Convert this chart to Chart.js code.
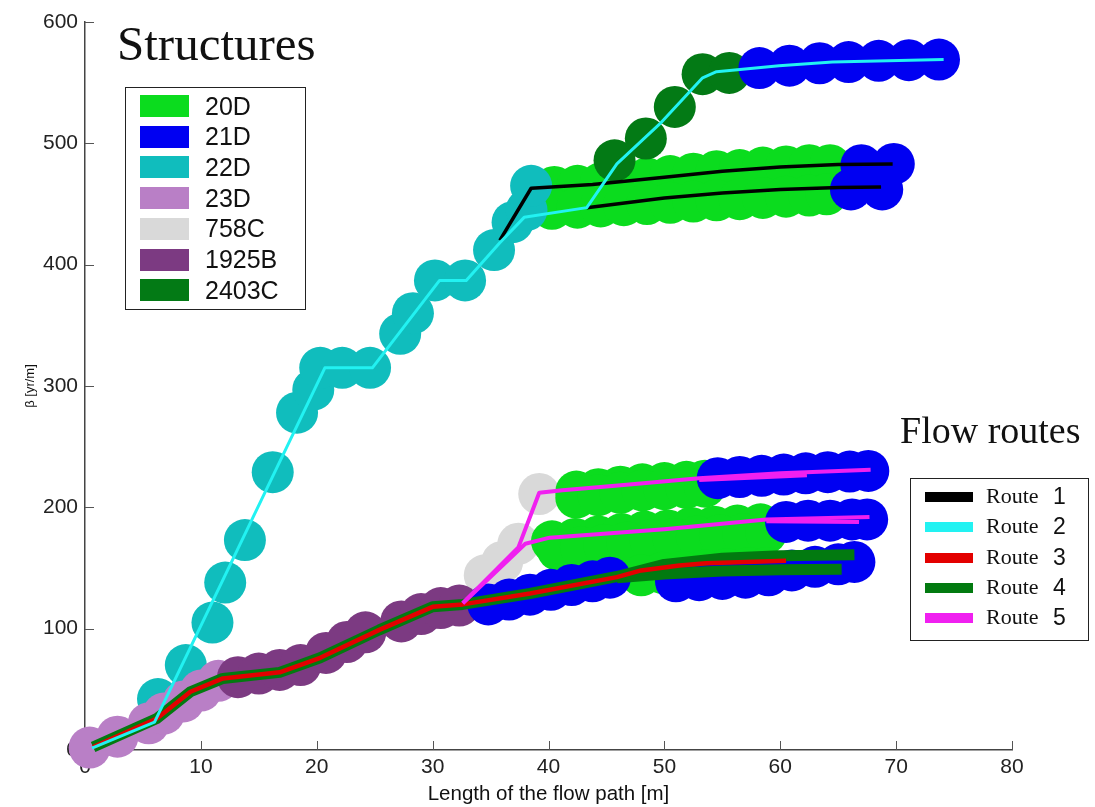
<!DOCTYPE html>
<html>
<head>
<meta charset="utf-8">
<script src="https://cdn.jsdelivr.net/npm/chart.js@4"></script>
<style>
  body { margin: 0; background: #fff; }
  #wrap { position: relative; width: 1095px; height: 807px; }
  .ttl { position: absolute; font-family: "Liberation Serif", "Times New Roman", serif; color: #111; line-height: 1; white-space: nowrap; }
  .box { position: absolute; border: 1px solid #222; background: #fff; box-sizing: border-box; }
  .sw { position: absolute; }
  .lbl { position: absolute; font-family: "Liberation Sans", Arial, sans-serif; color: #111; white-space: nowrap; line-height: 1; }
  .rt { position: absolute; font-family: "Liberation Serif", "Times New Roman", serif; color: #111; white-space: nowrap; line-height: 1; }
</style>
</head>
<body>
<div id="wrap">
  <canvas id="chart"></canvas>
  <div class="ttl" style="left:117px; top:19px; font-size:49px;">Structures</div>
  <div class="ttl" style="left:900px; top:411px; font-size:38px;">Flow routes</div>
  <div class="box" id="structLegend" style="left:125px; top:87px; width:181px; height:223px;"></div>
  <div class="box" id="routeLegend" style="left:910px; top:478px; width:179px; height:163px;"></div>
</div>
<script>
// axis ticks
const xTicks = [0, 10, 20, 30, 40, 50, 60, 70, 80];
const yTicks = [0, 100, 200, 300, 400, 500, 600];

// structures: circle centres [length, beta]
const structNames = ['20D', '21D', '22D', '23D', '758C', '1925B', '2403C'];
const structColors = ['#0bdc1e', '#0000f2', '#10bdbd', '#b97fc6', '#d9d9d9', '#7c3a82', '#037a15'];

const st20D = [
    [40.5, 464], [42.5, 465], [44.5, 467], [46.5, 469], [48.5, 471], [50.5, 473], [52.5, 475],
    [54.5, 477], [56.5, 478], [58.5, 480], [60.5, 481], [62.5, 482], [64.3, 482],
    [40.3, 446], [42.5, 447], [44.5, 448], [46.5, 449], [48.5, 450], [50.5, 451], [52.5, 452],
    [54.5, 453], [56.5, 454], [58.5, 455], [60.5, 456], [62.5, 457], [64, 458],
    [42.4, 213], [44.3, 215], [46.2, 217], [48.1, 219], [50, 220], [51.9, 221], [53.5, 222],
    [42.4, 208], [44.3, 210], [46.2, 212], [48.1, 214], [50, 215], [51.9, 216], [53.5, 217],
    [40.3, 172], [42.3, 174], [44.3, 176], [46.3, 178], [48.3, 180], [50.3, 181], [52.3, 183],
    [54.3, 184], [56.3, 185], [58.3, 186],
    [40.8, 165], [42.8, 167], [44.8, 169], [46.8, 171], [48.8, 173], [50.8, 174], [52.8, 176],
    [54.8, 177], [56.8, 178], [58.8, 179],
    [48, 144], [49.8, 146], [51.6, 147], [53.5, 148], [55.4, 149], [57.3, 150], [58.8, 150]
];
const st21D = [
    [58.2, 562], [60.8, 564], [63.4, 566], [65.9, 567], [68.5, 568], [71.1, 568.5], [73.7, 569],
    [67, 482], [69.8, 483], [66.1, 462], [68.8, 462],
    [54.6, 224], [56.5, 225], [58.4, 226], [60.3, 227], [62.2, 228], [64.1, 229], [66, 229.5], [67.6, 230],
    [60.5, 188], [62.4, 189], [64.3, 189], [66.2, 190], [67.5, 190],
    [51, 139], [53, 140], [55, 141], [57, 142], [59, 144], [61, 148], [63, 151], [65, 153], [66.4, 155],
    [34.8, 120], [36.6, 124], [38.4, 128], [40.2, 132], [42, 136], [43.8, 139], [45.3, 142]
];
const st22D = [
    [6.3, 42], [8.7, 70], [11.0, 105], [12.1, 138], [13.8, 173], [16.2, 229], [18.3, 278],
    [19.7, 297], [20.3, 315], [22.2, 315], [24.6, 315], [27.2, 343], [28.3, 360], [30.2, 387],
    [32.8, 387], [35.3, 412], [36.9, 435], [38.1, 445], [38.5, 465]
];
const st23D = [[0.4, 2], [2.8, 11], [5.5, 22], [6.8, 30], [8.5, 40], [10, 49], [11.5, 57]];
const st758C = [[34.5, 144], [36, 155], [37.4, 170], [39.2, 211]];
const st1925B = [
    [13.2, 60], [15, 63], [16.8, 66], [18.6, 70], [20.8, 80], [22.6, 89], [24.2, 97],
    [27.3, 106], [29, 112], [30.7, 117], [32.3, 119]
];
const st2403C = [[45.7, 486], [48.4, 504], [50.9, 530], [53.3, 557], [55.6, 558]];

// flow routes
const routeNames = ['Route', 'Route', 'Route', 'Route', 'Route'];
const routeNums = ['1', '2', '3', '4', '5'];
const routeColors = ['#000000', '#22f2f2', '#e30000', '#027a10', '#f020f0'];

const route1a = [[35.8, 420], [38.5, 463], [43.8, 466], [50, 472], [55, 477], [60, 480.5], [65, 482.5], [69.7, 483]];
const route1b = [[43.3, 447], [50, 455], [55, 459], [60, 462], [65, 463.5], [68.7, 464]];
const route2 = [
    [0.6, 1.6], [6.0, 23], [20.7, 315], [24.8, 315], [30.6, 387], [32.9, 387], [35.8, 418],
    [37.9, 439], [43.3, 447], [45.9, 483], [49.6, 516], [53.3, 554], [54.5, 559], [59.9, 564],
    [64.5, 567], [74.1, 569]
];
const route3 = [
    [0.7, 2.5], [6.2, 26], [9.1, 48], [11.9, 59], [16.8, 64], [20.3, 76], [25.4, 99], [30, 118],
    [32.6, 120], [38.4, 129], [45.9, 142.5], [48, 148], [51.3, 152], [53.6, 154], [60.5, 156]
];
const route4a = [
    [0.7, 2.5], [6.2, 26], [9.1, 48], [11.9, 59], [16.8, 64], [20.3, 76], [25.4, 99], [30, 118],
    [32.6, 120], [38.4, 129], [45.9, 143], [50, 153], [55, 158], [60, 160], [66.4, 161]
];
const route4b = [[45.9, 142], [50, 145], [55, 147.5], [60, 148.5], [65.3, 149]];
const route5a = [[32.6, 121], [37.4, 167], [39.2, 212], [41.2, 214], [46, 218], [53, 224], [60, 228], [67.8, 231]];
const route5b = [[32.6, 121], [38.0, 170], [40.1, 175], [50, 182], [58.8, 190], [67.7, 192]];
const route5c = [[53, 222.5], [62.3, 226.5]];
const route5d = [[58.8, 188.5], [66.8, 188]];

const toXY = arr => arr.map(p => ({ x: p[0], y: p[1] }));

function lineSet(data, color, width, order) {
    return {
        data: toXY(data), showLine: true, borderColor: color, borderWidth: width,
        pointRadius: 0, fill: false, clip: false, order: order,
        borderJoinStyle: 'round', borderCapStyle: 'butt'
    };
}
function circleSet(data, color, order) {
    return {
        data: toXY(data), showLine: false, backgroundColor: color, borderWidth: 0,
        pointRadius: 21, pointHoverRadius: 21, pointStyle: 'circle', clip: false, order: order
    };
}

const datasets = [
    lineSet(route2, routeColors[1], 3, 0),
    lineSet(route1a, routeColors[0], 3.5, 1),
    lineSet(route1b, routeColors[0], 3.5, 1),
    lineSet(route5a, routeColors[4], 4, 2),
    lineSet(route5b, routeColors[4], 4, 2),
    lineSet(route5c, routeColors[4], 4, 2),
    lineSet(route5d, routeColors[4], 4, 2),
    lineSet(route3, routeColors[2], 4.5, 3),
    lineSet(route4a, routeColors[3], 11, 4),
    lineSet(route4b, routeColors[3], 11, 4),
    circleSet(st21D, structColors[1], 10),
    circleSet(st2403C, structColors[6], 11),
    circleSet(st1925B, structColors[5], 12),
    circleSet(st23D, structColors[3], 13),
    circleSet(st22D, structColors[2], 14),
    circleSet(st20D, structColors[0], 15),
    circleSet(st758C, structColors[4], 16)
];

// tick marks pointing into the plot
const inwardTicks = {
    id: 'inwardTicks',
    beforeDatasetsDraw(chart) {
        const { ctx, chartArea, scales } = chart;
        ctx.save();
        ctx.strokeStyle = '#555';
        ctx.lineWidth = 1;
        ctx.beginPath();
        xTicks.forEach(v => {
            const px = Math.round(scales.x.getPixelForValue(v)) + 0.5;
            ctx.moveTo(px, chartArea.bottom);
            ctx.lineTo(px, chartArea.bottom - 9);
        });
        yTicks.forEach(v => {
            const py = Math.round(scales.y.getPixelForValue(v)) + 0.5;
            ctx.moveTo(chartArea.left, py);
            ctx.lineTo(chartArea.left + 9, py);
        });
        ctx.stroke();
        ctx.restore();
    }
};

const tickFont = { family: '"Liberation Sans", Arial, sans-serif', size: 21 };

new Chart(document.getElementById('chart'), {
    type: 'scatter',
    data: { datasets: datasets },
    options: {
        responsive: true,
        maintainAspectRatio: false,
        animation: false,
        events: [],
        layout: { padding: { left: 0, top: 22, right: 83, bottom: 0 } },
        plugins: { legend: { display: false }, tooltip: { enabled: false } },
        scales: {
            x: {
                type: 'linear', min: 0, max: 80,
                afterBuildTicks: s => { s.ticks = xTicks.map(v => ({ value: v })); },
                afterFit: s => { s.height = 57; },
                grid: { display: false, drawTicks: false },
                border: { display: true, color: '#444', width: 1.5 },
                ticks: { color: '#222', font: tickFont, padding: 5, maxRotation: 0 },
                title: {
                    display: true, text: 'Length of the flow path [m]', color: '#111',
                    font: { family: '"Liberation Sans", Arial, sans-serif', size: 20.5 },
                    padding: { top: 0, bottom: 0 }
                }
            },
            y: {
                type: 'linear', min: 0, max: 600,
                afterBuildTicks: s => { s.ticks = yTicks.map(v => ({ value: v })); },
                afterFit: s => { s.width = 85; },
                grid: { display: false, drawTicks: false },
                border: { display: true, color: '#444', width: 1.5 },
                ticks: { color: '#222', font: tickFont, padding: 7 },
                title: {
                    display: true, text: 'β [yr/m]', color: '#111',
                    font: { family: '"Liberation Sans", Arial, sans-serif', size: 13 },
                    padding: { top: 23, bottom: 0 }
                }
            }
        }
    },
    plugins: [inwardTicks]
});

// legends as real text
const sl = document.getElementById('structLegend');
structNames.forEach((name, i) => {
    const cy = 18 + i * 30.7;
    sl.insertAdjacentHTML('beforeend',
        `<div class="sw" style="left:14px; top:${cy - 11}px; width:49px; height:22px; background:${structColors[i]}"></div>` +
        `<div class="lbl" style="left:79px; top:${cy - 12.5}px; font-size:25px;">${name}</div>`);
});
const rl = document.getElementById('routeLegend');
routeNames.forEach((name, i) => {
    const cy = 18 + i * 30.3;
    rl.insertAdjacentHTML('beforeend',
        `<div class="sw" style="left:14px; top:${cy - 5}px; width:48px; height:10px; background:${routeColors[i]}"></div>` +
        `<div class="rt" style="left:75px; top:${cy - 12}px; font-size:22px;">${name}</div>` +
        `<div class="lbl" style="left:142px; top:${cy - 12}px; font-size:23px;">${routeNums[i]}</div>`);
});
</script>
</body>
</html>
